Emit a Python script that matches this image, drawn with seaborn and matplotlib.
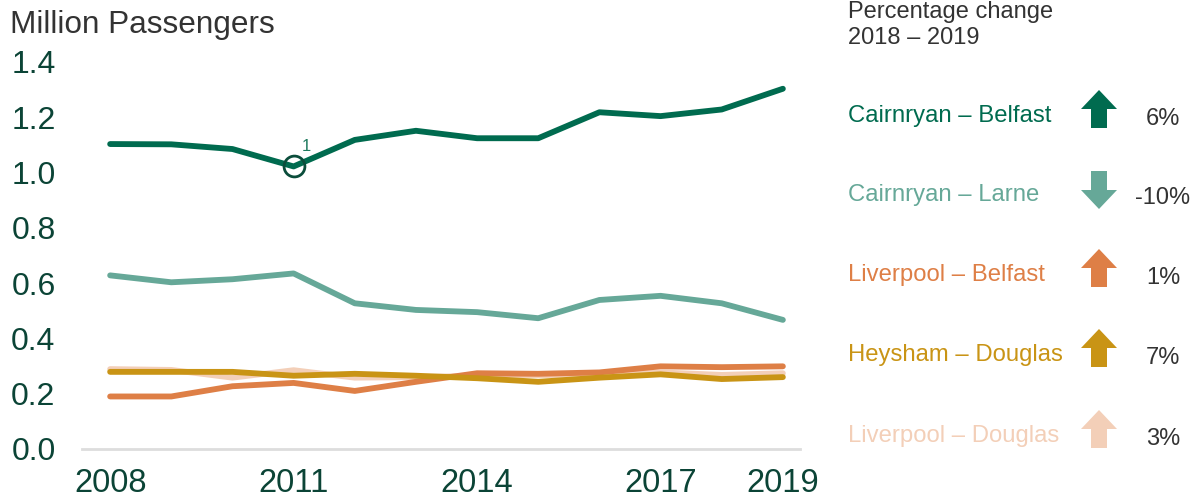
import numpy as np
import pandas as pd
import matplotlib
matplotlib.use("Agg")
import matplotlib.pyplot as plt
from matplotlib.patches import Polygon
import seaborn as sns

sns.set_theme(style="white")
plt.rcParams['font.family'] = ['Liberation Sans', 'DejaVu Sans']

# data
years = list(range(2008, 2020))
cairnryan_belfast = [1.103, 1.102, 1.085, 1.022, 1.118, 1.151, 1.124, 1.124, 1.218, 1.204, 1.228, 1.303]
cairnryan_larne = [0.628, 0.603, 0.614, 0.635, 0.527, 0.503, 0.495, 0.473, 0.539, 0.554, 0.527, 0.467]
liverpool_belfast = [0.190, 0.190, 0.227, 0.239, 0.210, 0.243, 0.274, 0.272, 0.277, 0.299, 0.296, 0.299]
heysham_douglas = [0.279, 0.279, 0.279, 0.265, 0.272, 0.265, 0.256, 0.243, 0.258, 0.270, 0.253, 0.260]
liverpool_douglas = [0.289, 0.286, 0.258, 0.285, 0.258, 0.260, 0.265, 0.267, 0.270, 0.277, 0.268, 0.274]

routes = ["Cairnryan – Belfast", "Cairnryan – Larne", "Liverpool – Belfast",
          "Heysham – Douglas", "Liverpool – Douglas"]
colors = ["#006b4f", "#66a898", "#de7f46", "#c99415", "#f3cfb8"]
pct_change = [6, -10, 1, 7, 3]
xtick_years = [2008, 2011, 2014, 2017, 2019]

series = [cairnryan_belfast, cairnryan_larne, liverpool_belfast, heysham_douglas, liverpool_douglas]
df = pd.concat([pd.DataFrame({"Year": years, "Passengers": s, "Route": r})
                for s, r in zip(series, routes)], ignore_index=True)

palette = dict(zip(routes, colors))
# back-to-front draw order
draw_order = ["Liverpool – Douglas", "Liverpool – Belfast", "Heysham – Douglas",
              "Cairnryan – Larne", "Cairnryan – Belfast"]

fig = plt.figure(figsize=(11.91, 4.99), dpi=100)
ax = fig.add_axes([82 / 1191, 1 - 449 / 499, (800 - 82) / 1191, (449 - 56.4) / 499])

sns.lineplot(data=df, x="Year", y="Passengers", hue="Route", hue_order=draw_order,
             palette=palette, linewidth=4.2, legend=False, ax=ax,
             solid_capstyle="round")

ax.set_xlim(2007.54, 2019.28)
ax.set_ylim(0, 1.42)
ax.set_yticks(np.arange(0, 1.41, 0.2))
ax.set_yticklabels([f"{v:.1f}" for v in np.arange(0, 1.41, 0.2)])
ax.set_xticks(xtick_years)
ax.set_xlabel("")
ax.set_ylabel("")
tick_col = "#0b4436"
ax.tick_params(axis="y", length=0, pad=19, labelsize=23, labelcolor=tick_col)
ax.tick_params(axis="x", length=0, pad=14, labelsize=23.5, labelcolor=tick_col)
for side in ["left", "right", "top"]:
    ax.spines[side].set_visible(False)
ax.spines["bottom"].set_color("#dddddd")
ax.spines["bottom"].set_linewidth(2)

# footnote marker on the 2011 value
i11 = years.index(2011)
ax.plot([2011], [cairnryan_belfast[i11]], marker="o", markersize=15, markerfacecolor="none",
        markeredgecolor="#0b4d3b", markeredgewidth=2, zorder=5)
ax.annotate("1", (2011, cairnryan_belfast[i11]), xytext=(6, 11), textcoords="offset points",
            fontsize=12, color="#1f7a5e")

fig.text(10 / 1191, 1 - 25 / 499, "Million Passengers", fontsize=22.7, color="#333333",
         ha="left", va="center")

# right-hand panel in pixel coordinates
rax = fig.add_axes([830 / 1191, 0, 361 / 1191, 1])
rax.set_xlim(830, 1191)
rax.set_ylim(499, 0)
rax.axis("off")

rax.text(848, 25, "Percentage change\n2018 – 2019", fontsize=17, color="#333333",
         ha="left", va="center", linespacing=1.2)

label_y = [116, 195, 275, 355, 436]
for name, col, pct, yy in zip(routes, colors, pct_change, label_y):
    rax.text(848, yy, name, fontsize=17.2, color=col, ha="left", va="center")
    cx, top, bot = 1099, yy - 26, yy + 12
    if pct < 0:
        top, bot = yy - 24, yy + 14
    hw, sw, hl = 18, 8, 19
    if pct >= 0:
        pts = [(cx, top), (cx + hw, top + hl), (cx + sw, top + hl), (cx + sw, bot),
               (cx - sw, bot), (cx - sw, top + hl), (cx - hw, top + hl)]
    else:
        pts = [(cx, bot), (cx + hw, bot - hl), (cx + sw, bot - hl), (cx + sw, top),
               (cx - sw, top), (cx - sw, bot - hl), (cx - hw, bot - hl)]
    rax.add_patch(Polygon(pts, closed=True, facecolor=col, edgecolor="none"))
    rax.text(1163, yy + 3, f"{pct}%", fontsize=17, color="#333333", ha="center", va="center")

fig.savefig("out.png", dpi=100)
